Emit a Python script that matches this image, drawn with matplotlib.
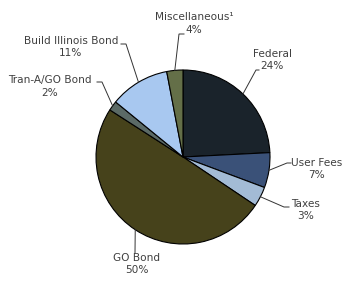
import numpy as np
import matplotlib.pyplot as plt

# slice order: clockwise from 12 o'clock
names = ["Federal", "User Fees", "Taxes", "GO Bond", "Tran-A/GO Bond",
         "Build Illinois Bond", "Miscellaneous\u00b9"]
pct_labels = ["24%", "7%", "3%", "50%", "2%", "11%", "4%"]
values = [24.2, 6.5, 3.7, 49.7, 1.8, 11.1, 3.0]
colors = ["#1a232b", "#3a5178", "#a3bbd5", "#46421b", "#5b6a66",
          "#a8c8f0", "#646f48"]

# layout (pixel coords, y from top): label block centre, leader knee, leader end
label_pos = [(272, 60), (317, 169), (306, 210), (137, 264), (50, 86.5),
             (71, 47), (194, 23.5)]
knees = [(256, 70), (287, 163), (284, 207), (135, 253), (102, 82),
         (126, 44), (179, 34)]
ends = [(259, 70), (291, 163), (289, 207), (135, 253), (97, 82),
        (121, 44), (184, 34)]

W, H = 343, 281
cx, cy, r = 183, 157, 87

fig = plt.figure(figsize=(W / 100, H / 100), dpi=100)
ax = fig.add_axes([0, 0, 1, 1])

wedges, _ = ax.pie(values, colors=colors, startangle=90, counterclock=False,
                   center=(cx, H - cy), radius=r,
                   wedgeprops=dict(edgecolor="black", linewidth=0.8))

for w, name, pct, (tx, ty), (kx, ky), (ex, ey) in zip(
        wedges, names, pct_labels, label_pos, knees, ends):
    mid = np.deg2rad((w.theta1 + w.theta2) / 2)
    px = cx + r * np.cos(mid)
    py = (H - cy) + r * np.sin(mid)
    ax.plot([px, kx, ex], [py, H - ky, H - ey], color="#333333", lw=0.7,
            solid_joinstyle="miter")
    ax.text(tx, H - ty, name + "\n" + pct, ha="center", va="center",
            multialignment="center", fontsize=7.6, color="#404040",
            linespacing=1.35, family="DejaVu Sans")

ax.set_xlim(0, W)
ax.set_ylim(0, H)
ax.set_aspect("equal")
ax.axis("off")

plt.savefig("out.png", dpi=100)
